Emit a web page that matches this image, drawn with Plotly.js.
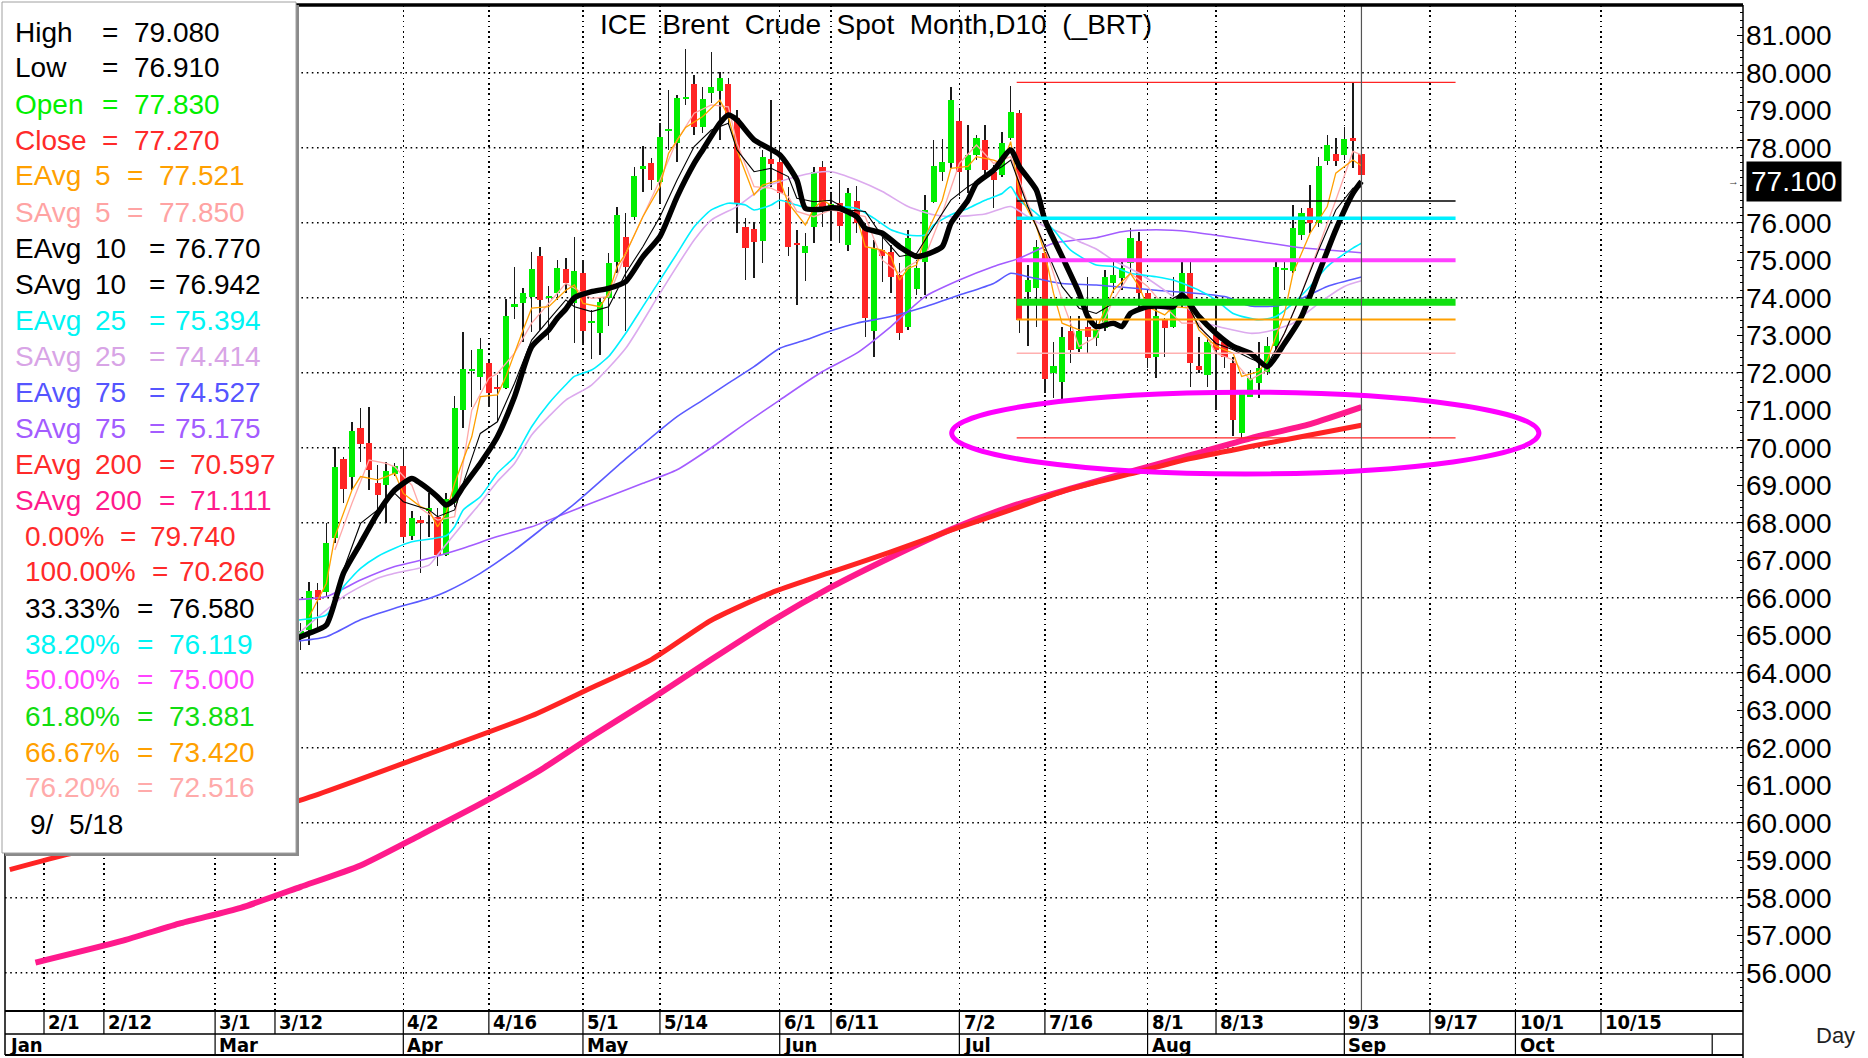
<!DOCTYPE html>
<html><head><meta charset="utf-8">
<script src="https://cdn.plot.ly/plotly-3.0.1.min.js"></script>
<style>html,body{margin:0;padding:0;background:#fff;overflow:hidden}#chart{width:1868px;height:1058px}</style>
</head><body><div id="chart"></div>
<script>
// ================= DATA =================
const candleDates = ['03-15','03-16','03-19','03-20','03-21','03-22','03-23','03-26','03-27','03-28','03-29','03-30',
'04-02','04-03','04-04','04-05','04-06','04-09','04-10','04-11','04-12','04-13','04-16','04-17','04-18','04-19','04-20','04-23','04-24','04-25','04-26','04-27','04-30',
'05-01','05-02','05-03','05-04','05-07','05-08','05-09','05-10','05-11','05-14','05-15','05-16','05-17','05-18','05-21','05-22','05-23','05-24','05-25','05-28','05-29','05-30','05-31',
'06-01','06-04','06-05','06-06','06-07','06-08','06-11','06-12','06-13','06-14','06-15','06-18','06-19','06-20','06-21','06-22','06-25','06-26','06-27','06-28','06-29',
'07-02','07-03','07-04','07-05','07-06','07-09','07-10','07-11','07-12','07-13','07-16','07-17','07-18','07-19','07-20','07-23','07-24','07-25','07-26','07-27','07-30','07-31',
'08-01','08-02','08-03','08-06','08-07','08-08','08-09','08-10','08-13','08-14','08-15','08-16','08-17','08-20','08-21','08-22','08-23','08-24','08-27','08-28','08-29','08-30','08-31',
'09-03','09-04','09-05'];
const candleOpen = [64.93,65.14,66.20,66.16,67.58,69.69,69.21,70.53,70.13,69.05,69.01,69.30,
69.51,67.65,68.07,68.30,68.16,67.14,68.52,71.01,72.05,71.89,72.25,71.63,71.58,73.74,73.87,74.01,75.11,73.98,74.13,74.76,73.85,
74.67,73.32,73.07,73.98,74.96,75.63,76.16,77.42,77.60,77.09,78.45,78.13,79.30,79.70,78.54,79.45,79.50,79.70,78.80,75.88,75.83,75.51,77.69,
77.63,76.60,75.45,75.20,75.89,77.49,76.40,76.52,75.41,76.59,75.85,73.10,75.27,75.23,74.61,73.23,74.22,74.96,76.56,77.36,77.58,
78.72,77.41,77.81,78.21,77.36,77.27,78.25,78.92,74.16,74.25,75.18,71.98,71.76,73.12,72.62,73.23,72.92,73.20,74.38,74.52,74.92,75.50,
74.12,72.43,73.41,73.23,73.85,74.67,72.18,71.94,73.01,72.83,72.25,70.38,71.36,71.72,72.03,72.70,74.74,74.70,75.67,76.38,75.98,77.65,77.83,
77.81,78.25,77.83];
const candleHigh = [65.32,66.43,66.40,67.98,70.01,69.74,70.69,71.05,71.09,69.54,69.63,69.58,
70.03,68.30,68.18,68.80,68.38,68.80,71.38,73.09,72.61,72.92,72.34,71.94,73.96,74.83,74.25,75.23,75.35,74.31,75.00,75.05,75.63,
75.01,73.67,74.03,75.18,76.43,76.25,77.49,78.05,77.72,78.65,79.54,79.41,80.62,79.94,79.63,80.56,80.03,79.85,79.00,76.12,76.03,77.94,79.27,
78.05,76.96,75.80,75.73,77.49,77.65,76.78,77.14,76.92,76.98,75.98,75.54,75.63,75.41,74.92,75.81,75.00,76.74,78.20,78.22,79.61,
79.05,78.61,78.34,78.61,77.54,78.43,79.65,79.00,74.87,75.54,75.23,72.83,73.23,73.50,73.50,74.56,73.40,74.75,74.96,75.00,75.85,75.76,
74.20,73.72,73.45,74.56,74.96,74.96,72.96,72.96,73.81,72.87,72.43,71.54,72.07,72.83,72.96,74.96,74.96,76.47,76.38,77.01,77.76,78.34,78.25,
78.56,79.74,79.08];
const candleLow = [64.60,64.74,65.14,66.03,67.45,68.53,68.87,69.63,68.87,68.34,67.98,69.25,
67.45,67.54,66.65,67.63,66.85,67.10,68.43,70.52,71.09,71.54,71.09,70.69,71.56,73.42,72.83,73.09,73.14,72.87,73.94,74.12,72.78,
72.77,72.36,72.47,73.25,74.65,73.12,76.07,76.83,76.87,76.52,77.94,77.63,79.14,78.34,78.38,79.18,78.21,78.60,75.72,74.47,74.52,74.92,76.96,
76.38,75.10,73.80,74.44,75.45,75.89,75.50,75.45,75.25,75.72,72.96,72.43,74.43,74.12,72.87,73.14,74.07,74.07,76.52,77.10,77.45,
76.70,76.78,77.67,77.27,76.38,77.23,78.20,73.05,72.70,73.23,71.45,71.32,71.18,72.27,72.56,72.52,72.70,73.10,74.12,74.20,74.65,73.67,
72.12,71.85,72.43,73.18,73.76,71.63,71.98,71.63,71.00,72.12,70.32,70.26,71.36,71.32,71.94,72.61,74.20,74.65,75.54,75.72,75.89,77.54,77.50,
77.67,77.45,76.91];
const candleClose = [65.11,66.19,65.95,67.45,69.49,68.91,70.45,70.10,69.41,68.74,69.38,69.51,
67.61,68.12,68.00,68.40,67.14,68.62,71.05,72.10,72.08,72.62,71.45,71.57,73.51,73.83,74.12,74.76,73.94,74.02,74.78,74.40,74.72,
73.12,73.38,73.89,74.92,76.21,74.81,77.25,77.52,77.14,78.28,78.49,79.33,79.36,78.54,79.29,79.61,79.85,78.80,76.52,75.32,75.49,77.76,77.57,
76.80,75.36,75.41,75.39,77.36,76.38,76.50,75.90,76.80,75.98,73.45,75.32,75.10,74.56,73.05,75.58,74.78,76.34,77.51,77.63,79.27,
77.34,77.81,78.27,77.41,77.14,78.12,78.94,73.41,74.47,75.36,71.82,72.18,72.94,72.60,73.12,72.96,73.14,74.55,74.61,74.78,75.60,74.12,
72.38,73.50,73.18,73.85,74.67,72.25,72.07,72.83,72.61,72.43,70.74,71.45,71.85,72.12,72.70,74.83,74.76,75.85,76.25,75.98,77.51,78.07,77.65,
78.22,78.19,77.27];

// Moving averages
const eavg5Dates = ['03-16','03-20','03-21','03-23','03-26','03-28','03-29','03-30','04-02','04-04','04-05','04-06','04-09','04-10','04-12','04-13','04-17','04-18','04-20','04-23','04-25','04-27','04-30','05-01','05-03','05-04','05-07','05-08','05-10','05-14','05-15','05-17','05-21','05-23','05-24','05-25','05-29','05-30','06-01','06-04','06-06','06-07','06-08','06-12','06-14','06-15','06-19','06-20','06-21','06-22','06-25','06-26','06-28','06-29','07-03','07-04','07-06','07-09','07-10','07-11','07-13','07-16','07-17','07-18','07-20','07-24','07-25','07-26','07-30','07-31','08-01','08-03','08-06','08-08','08-09','08-13','08-15','08-16','08-20','08-21','08-23','08-24','08-28','08-30','08-31','09-04','09-05'];
const eavg5Values = [65.5,66.38,67.63,68.87,69.23,69.14,69.23,69.32,68.78,68.43,68.34,67.89,68.25,69.05,70.29,71.36,71.41,71.9,73.14,73.72,73.76,74.2,74.34,73.85,73.76,74.12,74.83,75.18,76.16,76.96,77.85,78.54,78.83,79.27,78.83,77.94,76.74,77.0,77.14,76.52,75.94,76.38,76.6,76.34,76.16,75.36,75.27,75.1,74.47,74.78,74.87,75.63,76.6,77.45,77.5,77.76,77.67,77.58,78.16,76.78,75.9,75.18,74.12,73.32,73.14,73.14,73.67,74.2,74.65,74.3,73.76,73.54,73.76,73.72,73.14,72.7,72.52,71.9,72.03,72.34,73.58,74.65,75.72,76.43,77.32,77.67,77.52];
const savg5Dates = ['03-21','03-23','03-27','03-29','03-30','04-03','04-04','04-06','04-10','04-11','04-12','04-16','04-17','04-19','04-23','04-25','04-27','04-30','05-02','05-04','05-08','05-10','05-14','05-16','05-18','05-22','05-24','05-25','05-29','05-31','06-04','06-05','06-07','06-11','06-13','06-15','06-19','06-21','06-22','06-26','06-28','07-02','07-04','07-06','07-10','07-12','07-16','07-18','07-20','07-24','07-26','07-30','08-01','08-03','08-07','08-09','08-13','08-15','08-17','08-21','08-23','08-27','08-29','08-31','09-04','09-05'];
const savg5Values = [67.27,68.52,69.67,69.58,69.49,69.0,68.38,68.07,68.16,69.58,71.0,71.85,71.98,72.52,73.32,73.85,74.38,74.25,73.98,74.03,75.18,76.16,77.14,78.2,78.92,79.14,79.09,78.12,76.96,76.92,76.7,76.3,76.16,76.34,76.25,76.16,75.0,74.65,74.83,75.1,76.25,77.58,78.07,77.58,77.76,76.52,75.36,73.94,72.7,72.96,73.94,74.65,74.3,73.76,73.32,73.32,72.52,72.34,71.81,72.07,73.05,74.12,75.36,76.6,77.9,77.81];
const eavg10Dates = ['03-20','03-22','03-26','03-28','03-30','04-02','04-05','04-06','04-10','04-11','04-13','04-17','04-19','04-23','04-25','04-27','04-30','05-02','05-04','05-08','05-10','05-14','05-16','05-18','05-22','05-24','05-25','05-29','05-31','06-04','06-05','06-07','06-11','06-13','06-15','06-19','06-21','06-25','06-27','06-29','07-03','07-05','07-09','07-10','07-12','07-16','07-18','07-20','07-24','07-26','07-30','08-01','08-03','08-07','08-09','08-13','08-15','08-17','08-21','08-23','08-27','08-29','08-31','09-04','09-05'];
const eavg10Values = [65.32,66.74,67.98,68.34,68.78,68.56,68.34,68.16,68.34,69.05,70.38,70.69,71.72,72.87,73.41,73.94,73.76,73.63,73.76,74.65,75.36,76.16,77.14,78.03,78.47,78.65,77.94,77.36,77.45,77.23,76.65,76.56,76.6,76.34,76.3,75.63,75.1,75.18,75.9,76.6,76.96,77.23,77.5,77.67,76.43,75.36,74.3,73.72,73.58,73.85,73.94,73.76,73.85,74.12,73.23,72.78,72.61,72.38,72.2,73.05,74.12,75.27,76.34,76.92,76.96];
const savg10Dates = ['03-14','03-16','03-20','03-22','03-26','03-28','03-30','04-03','04-04','04-06','04-09','04-10','04-11','04-13','04-17','04-19','04-23','04-25','04-26','04-27','04-30','05-02','05-04','05-08','05-10','05-14','05-16','05-18','05-21','05-23','05-24','05-25','05-29','06-01','06-05','06-06','06-08','06-11','06-12','06-14','06-15','06-19','06-21','06-25','06-26','06-28','06-29','07-03','07-04','07-06','07-10','07-11','07-13','07-16','07-18','07-20','07-23','07-24','07-26','07-27','07-30','08-01','08-02','08-06','08-07','08-09','08-13','08-15','08-17','08-21','08-23','08-27','08-29','08-31','09-04','09-05'];
const savg10Values = [64.87,65.05,65.27,66.65,67.45,68.25,68.87,69.18,69.05,68.69,68.47,68.62,68.96,69.58,70.29,71.36,72.69,73.14,73.45,73.7,74.0,74.16,74.25,74.43,75.09,75.63,76.69,77.58,77.94,78.65,78.87,78.74,78.21,77.81,77.14,76.38,76.36,76.4,76.38,76.16,75.85,75.72,75.36,75.1,75.14,75.36,75.98,76.6,77.05,77.4,77.94,77.5,76.87,76.07,75.1,74.12,73.5,73.23,73.32,73.23,73.58,73.76,73.78,73.76,74.07,73.5,73.05,72.7,72.52,72.16,72.78,73.5,74.65,75.81,76.78,77.1];
const eavg25Dates = ['03-14','03-20','03-22','03-26','03-28','03-30','04-03','04-05','04-09','04-10','04-11','04-13','04-17','04-19','04-23','04-25','04-27','04-30','05-02','05-04','05-08','05-10','05-14','05-16','05-18','05-22','05-24','05-28','05-29','05-31','06-01','06-05','06-07','06-11','06-14','06-18','06-20','06-22','06-26','06-27','06-29','07-03','07-05','07-09','07-10','07-11','07-13','07-17','07-19','07-24','07-26','07-30','08-02','08-06','08-09','08-13','08-15','08-20','08-22','08-24','08-28','08-30','09-04','09-05'];
const eavg25Values = [65.39,65.54,66.29,66.78,67.1,67.32,67.49,67.56,67.65,67.89,68.34,68.69,69.32,69.76,70.56,71.18,71.68,71.9,72.07,72.43,73.05,73.76,74.47,75.18,75.89,76.34,76.52,76.47,76.34,76.47,76.6,76.47,76.34,76.43,76.38,76.12,75.81,75.67,75.67,75.94,76.21,76.38,76.6,76.78,76.96,76.6,76.25,75.81,75.27,74.87,74.83,74.65,74.56,74.47,74.2,73.94,73.58,73.41,73.5,73.85,74.3,74.83,75.32,75.45];
const savg25Dates = ['03-14','03-22','03-28','03-30','04-05','04-06','04-11','04-13','04-17','04-19','04-23','04-25','04-27','05-02','05-08','05-14','05-18','05-22','05-25','05-30','06-05','06-07','06-11','06-14','06-19','06-22','06-27','06-29','07-05','07-10','07-12','07-16','07-18','07-20','07-24','07-26','07-31','08-06','08-10','08-15','08-17','08-21','08-24','08-29','09-03','09-05'];
const savg25Values = [64.9,66.03,66.52,66.65,66.87,67.14,67.98,68.52,69.1,69.58,70.34,70.83,71.27,71.67,72.65,74.12,75.54,76.07,76.43,76.92,77.23,77.33,77.36,77.14,76.83,76.43,76.21,76.16,76.23,76.43,76.16,75.9,75.72,75.5,75.3,75.0,74.65,74.03,73.32,73.14,73.05,73.1,73.32,73.85,74.3,74.45];
const eavg75Dates = ['03-14','03-20','03-26','03-30','04-05','04-09','04-13','04-19','04-25','04-30','05-08','05-16','05-21','05-24','05-29','06-01','06-06','06-11','06-14','06-20','06-26','07-02','07-06','07-10','07-12','07-18','07-24','08-02','08-14','08-17','08-22','08-27','08-30','09-05'];
const eavg75Values = [64.83,64.96,65.41,65.72,65.98,66.16,66.65,67.27,67.98,68.5,69.7,70.83,71.27,71.72,72.16,72.65,72.87,73.12,73.32,73.5,73.76,74.07,74.38,74.65,74.56,74.38,74.34,74.2,74.03,73.78,73.78,73.98,74.3,74.55];
const savg75Dates = ['03-14','03-20','03-26','03-30','04-05','04-11','04-17','04-23','04-27','05-04','05-10','05-16','05-22','05-28','06-01','06-08','06-14','06-20','06-26','07-02','07-06','07-11','07-17','07-24','07-27','08-02','08-08','08-14','08-20','08-24','08-30','09-05'];
const savg75Values = [65.94,66.03,66.47,66.83,67.05,67.32,67.63,67.89,68.25,68.7,69.05,69.41,70.0,70.65,71.27,72.03,72.52,73.23,74.03,74.47,74.83,75.05,75.45,75.6,75.76,75.81,75.76,75.63,75.5,75.36,75.27,75.2];
const eavg200Dates = ['01-26','02-06','02-15','03-01','03-15','04-04','04-23','05-02','05-11','05-22','05-31','06-11','06-20','06-29','07-10','07-19','07-30','08-08','08-17','08-28','09-05'];
const eavg200Values = [58.75,59.17,59.5,60.0,60.6,61.75,62.85,63.6,64.35,65.4,66.13,66.68,67.22,67.8,68.34,68.9,69.3,69.71,70.03,70.34,70.6];
const savg200Dates = ['01-31','02-14','02-23','03-06','03-15','03-26','04-04','04-13','04-24','05-02','05-11','05-22','05-31','06-11','06-20','06-29','07-10','07-19','07-30','08-08','08-17','08-28','09-05'];
const savg200Values = [56.27,56.84,57.32,57.73,58.29,58.86,59.67,60.5,61.4,62.3,63.3,64.35,65.37,66.28,67.08,67.82,68.43,68.91,69.36,69.8,70.25,70.63,71.08];

// Fibonacci retracement levels
const fibLevels = [79.740, 70.260, 76.580, 76.119, 75.000, 73.881, 73.420, 72.516];
const fibStart = '07-11', fibEnd = '09-20';
const lastBarDate = '09-05';
const cursorValue = 77.100;

// Legend box text
const legendLabels = ['High','Low','Open','Close','EAvg','SAvg','EAvg','SAvg','EAvg','SAvg','EAvg','SAvg','EAvg','SAvg','0.00%','100.00%','33.33%','38.20%','50.00%','61.80%','66.67%','76.20%'];
const legendPeriods = ['','','','','5','5','10','10','25','25','75','75','200','200','','','','','','','',''];
const legendValues = ['79.080','76.910','77.830','77.270','77.521','77.850','76.770','76.942','75.394','74.414','74.527','75.175','70.597','71.111','79.740','70.260','76.580','76.119','75.000','73.881','73.420','72.516'];
const legendDate = '9/\u00a0\u00a05/18';

// Axis labels
const priceTicks = [56,57,58,59,60,61,62,63,64,65,66,67,68,69,70,71,72,73,74,75,76,78,79,80,81]; // 77 sits under the cursor box
const dayTickDates = ['02-01','02-12','03-01','03-12','04-02','04-16','05-01','05-14','06-01','06-11','07-02','07-16','08-01','08-13','09-03','09-17','10-01','10-15'];
const dayTickText = ['2/1','2/12','3/1','3/12','4/2','4/16','5/1','5/14','6/1','6/11','7/2','7/16','8/1','8/13','9/3','9/17','10/1','10/15'];
const monthDates = ['01-25','03-01','04-02','05-01','06-01','07-02','08-01','09-03','10-01','11-01'];
const monthText = ['Jan','Mar','Apr','May','Jun','Jul','Aug','Sep','Oct',''];
const chartTitle = 'ICE\u00a0\u00a0Brent\u00a0\u00a0Crude\u00a0\u00a0Spot\u00a0\u00a0Month,D10\u00a0\u00a0(_BRT)';

// ================= BUILD =================
const D = s => '2018-' + s;
const cats = [];
for (let t = Date.UTC(2018,0,25); t <= Date.UTC(2018,10,9); t += 86400000) {
  const dt = new Date(t), w = dt.getUTCDay();
  if (w > 0 && w < 6) cats.push(dt.toISOString().slice(0,10));
}
const ci = s => cats.indexOf(D(s));
const f0 = ci('02-01');

const W = 1868, H = 1058, PL = 5, PR = 1743, PT = 5, PB = 1010;
const px = x => (x - PL) / (PR - PL);
const py = y => (PB - y) / (PB - PT);

const C = {
  green:'#00ee00', red:'#ff2424', orange:'#ffa000', pink:'#ffa8a8', cyan:'#00f0ff', plum:'#dcaaee',
  blue:'#5a5aff', purple:'#a35cff', pink200:'#ff1a8c', magenta:'#ff40ff', fibGreen:'#10e010'
};

const traces = [];
traces.push({type:'scatter', mode:'markers', x:cats, y:cats.map(()=>null), hoverinfo:'skip', showlegend:false});
traces.push({type:'bar', x:candleDates.map(D), base:candleLow, y:candleHigh.map((h,i)=>h-candleLow[i]),
  width:0.17, marker:{color:'#1a1a1a', line:{width:0}}, hoverinfo:'skip', showlegend:false});
traces.push({type:'bar', x:candleDates.map(D), base:candleOpen.map((o,i)=>Math.min(o,candleClose[i])),
  y:candleOpen.map((o,i)=>Math.max(Math.abs(candleClose[i]-o),0.06)), width:0.72,
  marker:{color:candleOpen.map((o,i)=>candleClose[i]>=o?C.green:C.red), line:{width:0}}, showlegend:false});

function line(dates, vals, color, width, shape) {
  return {type:'scatter', mode:'lines', x:dates.map(D), y:vals, line:{color, width, shape:shape||'spline', smoothing:0.6},
    hoverinfo:'skip', showlegend:false};
}
traces.push(line(savg200Dates, savg200Values, C.pink200, 6));
traces.push(line(eavg200Dates, eavg200Values, C.red, 5));
traces.push(line(savg75Dates, savg75Values, C.purple, 1.6));
traces.push(line(eavg75Dates, eavg75Values, C.blue, 1.6));
traces.push(line(savg25Dates, savg25Values, C.plum, 1.6));
traces.push(line(eavg25Dates, eavg25Values, C.cyan, 1.6));
traces.push(line(savg5Dates, savg5Values, C.pink, 1.3, 'linear'));
traces.push(line(eavg5Dates, eavg5Values, C.orange, 1.3, 'linear'));
traces.push(line(eavg10Dates, eavg10Values, '#000', 1.1, 'linear'));
traces.push(line(savg10Dates, savg10Values, '#000', 5.5));

const shapes = [];
const dotDash = '1.6px,3.6px';
for (let v = 56; v <= 80; v += 2) {
  shapes.push({type:'line', xref:'paper', yref:'y', x0:0, x1:1, y0:v, y1:v, layer:'below',
    line:{color:'#000', width:1.4, dash:dotDash}});
}
const fibStyles = [
  {color:C.red, width:1.3}, {color:C.red, width:1.3}, {color:'#000', width:1.5}, {color:C.cyan, width:3.5},
  {color:C.magenta, width:4}, {color:C.fibGreen, width:7}, {color:C.orange, width:2}, {color:'#ffb0b0', width:1.5}];
fibLevels.forEach((v,k) => shapes.push({type:'line', xref:'x', yref:'y', x0:ci(fibStart)-0.3, x1:ci(fibEnd), y0:v, y1:v, layer:'above', line:fibStyles[k]}));
shapes.push({type:'line', xref:'x', yref:'paper', x0:ci(lastBarDate), x1:ci(lastBarDate), y0:0, y1:1, layer:'above', line:{color:'#555', width:1.2}});
shapes.push({type:'circle', xref:'x', yref:'y', x0:f0+106.1, x1:f0+174.75, y0:69.3, y1:71.48, layer:'above', line:{color:'#ff00ff', width:5}});
shapes.push({type:'line', xref:'paper', yref:'paper', x0:0, x1:1, y0:1, y1:1, line:{color:'#000', width:3.5}});
shapes.push({type:'line', xref:'paper', yref:'paper', x0:0, x1:0, y0:1, y1:py(1055), line:{color:'#000', width:1.5}});
shapes.push({type:'line', xref:'paper', yref:'paper', x0:1, x1:1, y0:1, y1:py(1058), line:{color:'#000', width:1.5}});
shapes.push({type:'line', xref:'paper', yref:'paper', x0:0, x1:1, y0:py(1034), y1:py(1034), line:{color:'#000', width:1.5}});
shapes.push({type:'line', xref:'paper', yref:'paper', x0:0, x1:1, y0:py(1055), y1:py(1055), line:{color:'#000', width:2}});
dayTickDates.forEach(d => shapes.push({type:'line', xref:'x', yref:'paper', x0:ci(d), x1:ci(d), y0:0, y1:py(1034), line:{color:'#000', width:1.2}}));
monthDates.forEach((d,k) => { if (k>0) shapes.push({type:'line', xref:'x', yref:'paper', x0:ci(d), x1:ci(d), y0:py(1034), y1:py(1055), line:{color:'#000', width:1.2}}); });
shapes.push({type:'rect', xref:'paper', yref:'paper', x0:px(5), x1:px(299), y0:py(5), y1:py(856), fillcolor:'#8a8a8a', line:{width:0}, layer:'above'});
shapes.push({type:'rect', xref:'paper', yref:'paper', x0:px(2), x1:px(296), y0:py(2), y1:py(853), fillcolor:'#fff', line:{color:'#a0a0a0', width:1}, layer:'above'});

const annotations = [];
const FONT = 'Liberation Sans, Arial, sans-serif';
const NARROW = 'Liberation Sans Narrow, DejaVu Sans Condensed, Arial Narrow, Liberation Sans, sans-serif';
function txt(x, y, text, color, size, extra) {
  return Object.assign({xref:'paper', yref:'paper', x:px(x), y:py(y), text, showarrow:false, xanchor:'left', yanchor:'middle',
    font:{family:FONT, size, color}}, extra||{});
}
const legendColors = ['#000','#000','#00f000','#ff2a2a',C.orange,'#ffa3a3','#000','#000','#00f4f4','#d8a4e6','#5555ff','#a35cff','#ff2a2a','#ff1a8c',
  '#ff2a2a','#ff2a2a','#000','#00f4f4','#ff44ff','#11dd11',C.orange,'#ffaaaa'];
legendLabels.forEach((lab,k) => {
  const y = 32 + 36*k, col = legendColors[k];
  let lx=13, nx=93, ex, vx;
  if (k<4) {ex=100; vx=132;}
  else if (k<6) {ex=125; vx=157;}
  else if (k<12) {ex=147; vx=173;}
  else if (k<14) {ex=157; vx=188;}
  else if (k===14) {lx=23; ex=118; vx=148;}
  else if (k===15) {lx=23; ex=150; vx=177;}
  else {lx=23; ex=135; vx=167;}
  annotations.push(txt(lx, y, lab, col, 28));
  if (legendPeriods[k]) annotations.push(txt(nx, y, legendPeriods[k], col, 28));
  annotations.push(txt(ex, y, '=', col, 28));
  annotations.push(txt(vx, y, legendValues[k], col, 28));
});
annotations.push(txt(28, 32+36*22, legendDate, '#000', 28));
dayTickDates.forEach((d,k) => annotations.push({xref:'x', yref:'paper', x:ci(d)+0.25, y:py(1022), text:dayTickText[k], showarrow:false,
  xanchor:'left', yanchor:'middle', font:{family:NARROW, size:20, color:'#000', weight:'bold'}}));
monthDates.forEach((d,k) => { if (monthText[k]) annotations.push({xref:'x', yref:'paper', x:(k===0? f0-4.2 : ci(d)+0.25), y:py(1045), text:monthText[k], showarrow:false,
  xanchor:'left', yanchor:'middle', font:{family:NARROW, size:20, color:'#000', weight:'bold'}}); });
annotations.push(txt(1835, 1035, 'Day', '#222', 22, {xanchor:'center'}));
annotations.push({xref:'paper', yref:'y', x:px(1746), y:cursorValue, text:cursorValue.toFixed(3), showarrow:false, xanchor:'left', yanchor:'middle',
  bgcolor:'#000', borderpad:4, font:{family:FONT, size:28, color:'#fff'}});
annotations.push({xref:'paper', yref:'y', x:px(1733), y:cursorValue, text:'\u2192', showarrow:false, xanchor:'center', yanchor:'middle', font:{family:FONT, size:11, color:'#333'}});

const layout = {
  width:W, height:H, margin:{l:PL, r:W-PR, t:PT, b:H-PB, pad:0},
  paper_bgcolor:'#fff', plot_bgcolor:'#fff', barmode:'overlay', bargap:0, showlegend:false,
  title:{text:chartTitle, x:876/W, xanchor:'center', y:1-24/H, yanchor:'middle', font:{family:FONT, size:28, color:'#000'}},
  xaxis:{type:'category', categoryorder:'array', categoryarray:cats, range:[f0-4.559, f0+198.6], fixedrange:true,
    tickvals:dayTickDates.map(D), showticklabels:false, ticks:'', showgrid:true, gridcolor:'#000', gridwidth:1.4, griddash:dotDash,
    showline:true, linecolor:'#000', linewidth:1.5, zeroline:false},
  yaxis:{range:[55.005, 81.805], side:'right', tickmode:'array', tickvals:priceTicks, tickformat:'.3f', ticks:'inside', ticklen:6, tickwidth:1.2, tickcolor:'#000',
    minor:{tickmode:'linear', tick0:0, dtick:0.2, ticklen:3, ticks:'inside', tickcolor:'#000', tickwidth:1, showgrid:false},
    showgrid:false, zeroline:false, showline:false, fixedrange:true, ticklabelstandoff:2,
    tickfont:{family:FONT, size:28, color:'#000'}},
  shapes, annotations
};
Plotly.newPlot('chart', traces, layout, {displayModeBar:false, staticPlot:true});
</script></body></html>
